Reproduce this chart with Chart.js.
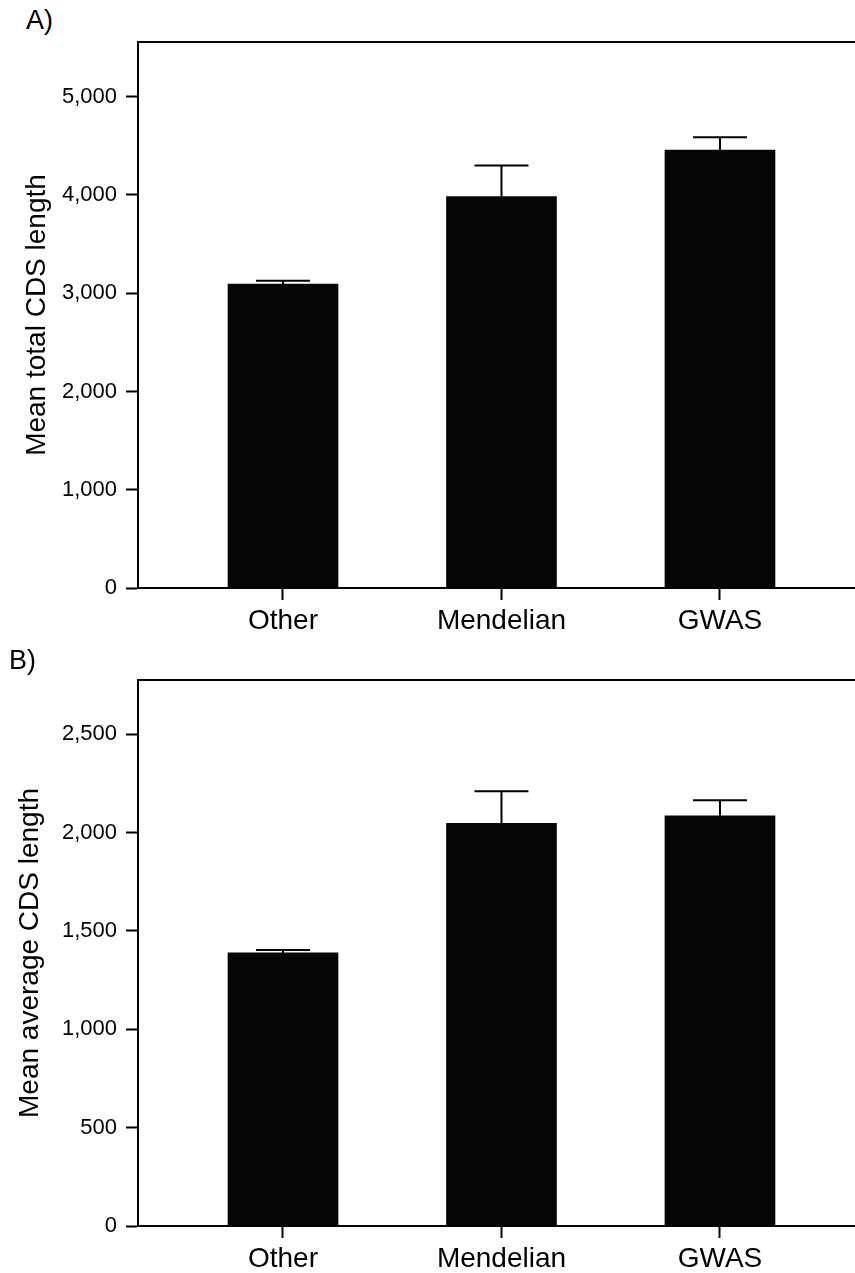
<!DOCTYPE html>
<html>
<head>
<meta charset="utf-8">
<script src="https://cdn.jsdelivr.net/npm/chart.js@4"></script>
<style>
  body { margin: 0; background: #fff; overflow: hidden; }
  .wrap { position: relative; width: 855px; height: 1273px; }
  canvas { position: absolute; left: 0; }
  .tag { position: absolute; font: 27px "Liberation Sans", Arial, sans-serif; color: #000; }
</style>
</head>
<body>
<div class="wrap">
  <div class="tag" style="left:26px;top:5px;">A)</div>
  <canvas id="chartA" width="855" height="650" style="top:0px;"></canvas>
  <div class="tag" style="left:9px;top:645px;">B)</div>
  <canvas id="chartB" width="855" height="633" style="top:640px;"></canvas>
</div>
<script>
// categories + values
var groups = ['Other', 'Mendelian', 'GWAS'];

var totalLen = [3092, 3984, 4456];
var totalErr = [34, 315, 132];
var totalTicks = [0, 1000, 2000, 3000, 4000, 5000];

var avgLen = [1388, 2047, 2085];
var avgErr = [15, 162, 79];
var avgTicks = [0, 500, 1000, 1500, 2000, 2500];

var FONT = '"Liberation Sans", Arial, sans-serif';

// error bars (mean + SEM, upper only) and the top frame line
const errorBars = {
  id: 'errorBars',
  afterDatasetsDraw(chart, args, opts) {
    const ctx = chart.ctx;
    const x = chart.scales.x, y = chart.scales.y;
    ctx.save();
    ctx.strokeStyle = '#000';
    ctx.lineWidth = 2;
    opts.means.forEach(function (m, i) {
      const px = x.getPixelForValue(i + 1);
      const base = y.getPixelForValue(m);
      const top = y.getPixelForValue(m + opts.errs[i]);
      ctx.beginPath();
      ctx.moveTo(px, base);
      ctx.lineTo(px, top);
      ctx.moveTo(px - 27, top);
      ctx.lineTo(px + 27, top);
      ctx.stroke();
    });
    const a = chart.chartArea;
    ctx.beginPath();
    ctx.moveTo(a.left - 1, a.top);
    ctx.lineTo(a.right, a.top);
    ctx.stroke();
    ctx.restore();
  }
};

function makeChart(id, means, errs, ticks, yMax, title, padTop, xHeight, titlePad) {
  return new Chart(document.getElementById(id), {
    type: 'bar',
    data: {
      datasets: [{
        data: means.map(function (v, i) { return { x: i + 1, y: v }; }),
        backgroundColor: '#050505',
        borderWidth: 0,
        barThickness: 110
      }]
    },
    options: {
      responsive: false,
      animation: false,
      layout: { padding: { top: padTop, left: 0, right: 0, bottom: 0 } },
      plugins: {
        legend: { display: false },
        tooltip: { enabled: false },
        errorBars: { means: means, errs: errs }
      },
      scales: {
        x: {
          type: 'linear',
          offset: false,
          min: 0.3364,
          max: 3.618,
          afterBuildTicks: function (s) { s.ticks = groups.map(function (g, i) { return { value: i + 1 }; }); },
          afterFit: function (s) { s.height = xHeight; },
          grid: { offset: false, drawOnChartArea: false, tickLength: 12, tickColor: '#000', tickWidth: 2 },
          border: { color: '#000', width: 2 },
          ticks: {
            autoSkip: false,
            maxRotation: 0,
            padding: 4,
            color: '#000',
            font: { family: FONT, size: 28 },
            callback: function (v) { return groups[v - 1]; }
          }
        },
        y: {
          min: 0,
          max: yMax,
          afterBuildTicks: function (s) { s.ticks = ticks.map(function (v) { return { value: v }; }); },
          afterFit: function (s) { s.width = 138; },
          grid: { drawOnChartArea: false, tickLength: 12, tickColor: '#000', tickWidth: 2 },
          border: { color: '#000', width: 2 },
          ticks: {
            padding: 9,
            color: '#000',
            font: { family: FONT, size: 22 },
            callback: function (v) { return v.toLocaleString('en-US'); }
          },
          title: {
            display: true,
            text: title,
            color: '#000',
            font: { family: FONT, size: 28 },
            padding: { top: titlePad, bottom: 0 }
          }
        }
      }
    },
    plugins: [errorBars]
  });
}

makeChart('chartA', totalLen, totalErr, totalTicks, 5556, 'Mean total CDS length', 42, 62, 20);
makeChart('chartB', avgLen, avgErr, avgTicks, 2775, 'Mean average CDS length', 40, 47, 13);
</script>
</body>
</html>
